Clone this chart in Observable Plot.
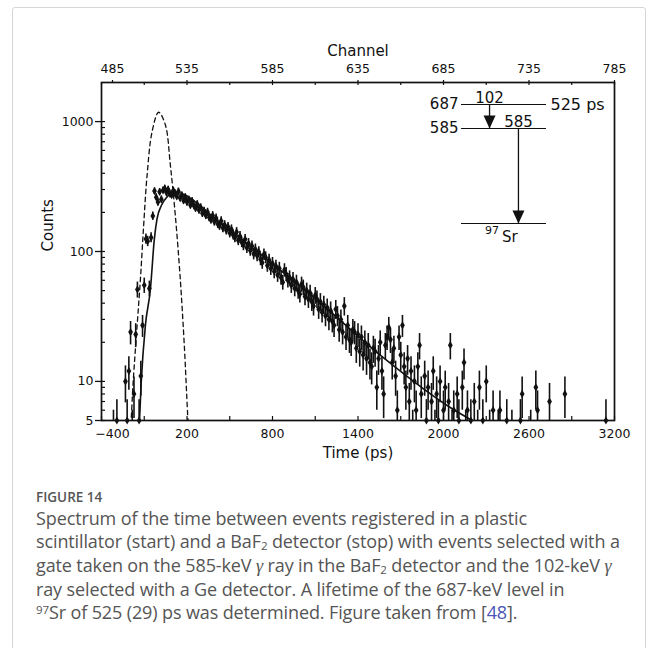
<!DOCTYPE html>
<html>
<head>
<meta charset="utf-8">
<script src="https://cdn.jsdelivr.net/npm/d3@7"></script>
<script src="https://cdn.jsdelivr.net/npm/@observablehq/plot@0.6"></script>
<style>
  html, body { margin: 0; padding: 0; background: #fff; }
  #card { position: absolute; left: 12px; top: 7px; width: 634px; height: 700px;
          border: 1px solid #d6d6d6; border-radius: 3px; box-sizing: border-box; }
  #chart { position: absolute; left: 0; top: 0; }
  #scheme { position: absolute; left: 400px; top: 85px; }
  #caption { position: absolute; left: 36px; top: 487px; width: 612px; color: #555;
             font-family: "Open Sans", Lato, sans-serif; }
  #caption .fig { font-size: 13.5px; font-weight: 600; line-height: 20px; }
  #caption .txt { font-size: 18px; line-height: 23.3px; white-space: nowrap; letter-spacing: -0.12px; }
  #caption .g { font-family: "Liberation Serif", serif; font-style: italic; }
  #caption sub, #caption sup { font-size: 64%; line-height: 0; vertical-align: baseline; position: relative; }
  #caption sub { top: 0.18em; }
  #caption sup { top: -0.45em; }
  #caption .ref { color: #4a55b5; }
</style>
</head>
<body>
<div id="card"></div>
<div id="chart"></div>
<div id="scheme"></div>
<div id="caption">
  <div class="fig">FIGURE 14</div>
  <div class="txt">Spectrum of the time between events registered in a plastic<br>scintillator (start) and a BaF<sub>2</sub> detector (stop) with events selected with a<br>gate taken on the 585-keV <span class="g">γ</span> ray in the BaF<sub>2</sub> detector and the 102-keV <span class="g">γ</span><br>ray selected with a Ge detector. A lifetime of the 687-keV level in<br><sup>97</sup>Sr of 525 (29) ps was determined. Figure taken from [<span class="ref">48</span>].</div>
</div>
<script>
// Time calibration of the TDC: channel 485 is −400 ps, 12 ps per channel.
const firstChannel = 485;
const startTime = -400;
const psPerChannel = 12;

// Counts per channel, channels 485 … 785 (−400 … 3200 ps)
const counts = [
  0, 1, 0, 0, 1, 0, 2, 4, 1, 5,
  0, 1, 2, 3, 10, 5, 12, 24, 4, 8,
  23, 51, 5, 11, 27, 55, 125, 120, 52, 128,
  188, 292, 262, 240, 288, 252, 296, 306, 284, 300,
  278, 272, 295, 281, 266, 290, 258, 271, 247, 262,
  240, 251, 228, 244, 226, 216, 231, 209, 218, 197,
  205, 190, 201, 183, 176, 189, 170, 181, 163, 158,
  172, 152, 160, 146, 155, 139, 148, 134, 128, 141,
  122, 131, 118, 112, 124, 107, 115, 102, 110, 96,
  104, 93, 99, 87, 82, 95, 90, 78, 86, 74,
  81, 70, 77, 66, 74, 63, 58, 72, 67, 60,
  63, 55, 61, 52, 58, 50, 47, 56, 53, 45,
  50, 43, 48, 41, 38, 46, 43, 36, 41, 34,
  39, 32, 37, 30, 35, 29, 27, 36, 32, 25,
  30, 24, 38, 22, 27, 21, 20, 25, 24, 18,
  23, 17, 22, 16, 20, 15, 19, 14, 13, 18,
  17, 9, 15, 20, 12, 8, 19, 22, 26, 21,
  14, 18, 11, 6, 22, 16, 27, 13, 9, 15,
  7, 12, 4, 10, 6, 13, 19, 8, 3, 11,
  5, 9, 2, 7, 12, 4, 8, 5, 10, 3,
  6, 9, 2, 7, 19, 4, 6, 3, 8, 5,
  2, 9, 14, 4, 6, 1, 5, 3, 7, 2,
  4, 9, 1, 5, 3, 10, 2, 4, 0, 6,
  3, 1, 4, 6, 2, 0, 3, 5, 1, 2,
  4, 0, 3, 1, 2, 5, 8, 3, 1, 0,
  2, 4, 1, 3, 9, 6, 0, 2, 1, 3,
  0, 2, 7, 1, 0, 2, 1, 0, 3, 1,
  0, 8, 2, 0, 1, 0, 2, 1, 0, 0,
  1, 0, 2, 0, 1, 0, 0, 1, 0, 2,
  0, 1, 0, 0, 1, 5, 0, 1, 0, 0,
  0
];

// Lifetime fit (solid) and prompt response (dashed): [time ps, counts]
const fitCurve = [
  [-140, 4.6], [-134, 5], [-122, 9.5], [-92, 27], [-57, 51], [-29, 125],
  [-10, 179], [20, 226], [60, 263], [100, 290], [457, 158], [854, 72],
  [1064, 47], [1554, 16], [2067, 6.1], [2230, 4.8]
];
const promptCurve = [
  [-195, 4.6], [-192, 5], [-178, 9.8], [-150, 27], [-127, 61], [-104, 160],
  [-80, 387], [-45, 836], [1, 1180], [48, 945], [83, 465], [118, 190],
  [153, 61], [181, 19], [207, 5], [210, 4.6]
];

// Axis ticks
const timeTicks = [-400, 200, 800, 1400, 2000, 2600, 3200];
const timeMinor = [-100, 500, 1100, 1700, 2300, 2900];
const channelTicks = [485, 535, 585, 635, 685, 735, 785];
const channelMinor = [510, 560, 610, 660, 710, 760];
const countTicks = [5, 10, 100, 1000];
const countMinor = [6, 7, 8, 9, 20, 30, 40, 50, 60, 70, 80, 90, 200, 300, 400, 500, 600, 700, 800, 900];

// Level scheme of 97Sr (keV) and the cascade used for the gate
const levels = [
  {energy: 687, label: "687", lifetime: "525 ps"},
  {energy: 585, label: "585", lifetime: ""},
  {energy: 0, label: "", lifetime: ""}
];
const gammas = [
  {label: "102", from: 687, to: 585, slot: 0.33},
  {label: "585", from: 585, to: 0, slot: 0.67}
];
const nucleus = {mass: "97", element: "Sr"};

const channelToTime = ch => startTime + (ch - firstChannel) * psPerChannel;
const timeToChannel = t => Math.round((t - startTime) / psPerChannel + firstChannel);

const rows = counts.map((c, i) => ({
  time: channelToTime(firstChannel + i),
  count: c,
  lo: Math.max(c - Math.sqrt(c), 0.5),
  hi: c + Math.sqrt(c)
}));

const W = 656, H = 475;
const mTop = 82, mLeft = 101, mRight = 42, mBottom = 55;
const frameW = W - mLeft - mRight, frameH = H - mTop - mBottom;
const ink = "#111";

const chart = Plot.plot({
  width: W, height: H,
  marginTop: mTop, marginLeft: mLeft, marginRight: mRight, marginBottom: mBottom,
  style: {fontFamily: "DejaVu Sans", fontSize: "12px", color: ink, background: "transparent"},
  x: {domain: [-400, 3200], axis: null},
  y: {type: "log", domain: [5, 2000], axis: null},
  marks: [
    // error bars and data points
    Plot.ruleX(rows.filter(d => d.hi > 5), {x: "time", y1: "lo", y2: "hi", stroke: ink, strokeWidth: 1.6, clip: true}),
    Plot.dot(rows.filter(d => d.count >= 5), {x: "time", y: "count", symbol: "diamond", r: 2.5, fill: ink, stroke: "none"}),
    // prompt response and fit
    Plot.line(promptCurve, {x: d => d[0], y: d => d[1], curve: "catmull-rom", stroke: ink, strokeWidth: 1.3, strokeDasharray: "4.5,3.5", clip: true}),
    Plot.line(fitCurve, {x: d => d[0], y: d => d[1], curve: "monotone-x", stroke: ink, strokeWidth: 1.6, clip: true}),
    Plot.frame({stroke: ink, strokeWidth: 1.7}),
    // left axis: labelled decades with outward ticks, minor ticks inside
    Plot.ruleY(countTicks, {y: d => d, insetLeft: -6, insetRight: frameW, stroke: ink, strokeWidth: 1.3}),
    Plot.text(countTicks, {y: d => d, frameAnchor: "left", text: d => String(d), textAnchor: "end", dx: -8, fontSize: 12.5, fill: ink}),
    Plot.ruleY(countTicks.concat(countMinor), {y: d => d, insetRight: frameW - 4, stroke: ink, strokeWidth: 1.2}),
    // bottom axis: time in ps, ticks pointing inwards
    Plot.axisX(timeTicks.slice(1), {anchor: "bottom", label: null, tickSize: 0, tickPadding: 9, fontSize: 12.5, tickFormat: d => String(d)}),
    Plot.axisX(timeTicks.slice(0, 1), {anchor: "bottom", label: null, tickSize: 0, tickPadding: 9, fontSize: 12.5, dx: 11, tickFormat: d => "−" + Math.abs(d)}),
    Plot.ruleX(timeTicks.concat(timeMinor), {x: d => d, insetTop: frameH - 4, stroke: ink, strokeWidth: 1.2}),
    // top axis: TDC channel
    Plot.axisX(channelTicks.slice(1).map(channelToTime), {anchor: "top", label: null, tickSize: 3, tickPadding: 7, strokeWidth: 1.2, fontSize: 12.5, tickFormat: timeToChannel}),
    Plot.axisX(channelTicks.slice(0, 1).map(channelToTime), {anchor: "top", label: null, tickSize: 3, tickPadding: 7, strokeWidth: 1.2, fontSize: 12.5, dx: 11, tickFormat: timeToChannel}),
    Plot.ruleX(channelTicks.concat(channelMinor).map(channelToTime), {x: d => d, insetBottom: frameH - 3, stroke: ink, strokeWidth: 1.2}),
    // axis titles
    Plot.text(["Channel"], {frameAnchor: "top", text: d => d, dy: -37, fontSize: 15, fill: ink}),
    Plot.text(["Time (ps)"], {frameAnchor: "bottom", text: d => d, dy: 37, fontSize: 15, fill: ink}),
    Plot.text(["Counts"], {frameAnchor: "left", text: d => d, dx: -53, rotate: -90, fontSize: 15, fill: ink})
  ]
});
document.getElementById("chart").append(chart);

// Filled arrow head with its tip on the anchor point
const arrowHead = {
  draw(context) {
    context.moveTo(0, 0);
    context.lineTo(-6, -13);
    context.lineTo(6, -13);
    context.closePath();
  }
};

const scheme = Plot.plot({
  width: 240, height: 175, margin: 0,
  style: {fontFamily: "DejaVu Sans", fontSize: "15px", color: ink, background: "transparent"},
  x: {type: "linear", domain: [0, 1], range: [61, 146], axis: null},
  y: {type: "linear", domain: [0, 585, 687], range: [138, 43, 19], axis: null},
  marks: [
    Plot.ruleY(levels, {y: "energy", x1: 0, x2: 1, stroke: ink, strokeWidth: 1.2}),
    Plot.link(gammas, {x1: "slot", x2: "slot", y1: "from", y2: "to", stroke: ink, strokeWidth: 1.3}),
    Plot.dot(gammas, {x: "slot", y: "to", symbol: arrowHead, fill: ink, stroke: "none"}),
    Plot.text(gammas, {x: "slot", y: "from", text: "label", lineAnchor: "bottom", dy: -2, fill: ink}),
    Plot.text(levels, {x: 0, y: "energy", text: "label", textAnchor: "end", dx: -3, fill: ink}),
    Plot.text(levels, {x: 1, y: "energy", text: "lifetime", textAnchor: "start", dx: 4, fontSize: 16, fill: ink}),
    Plot.text([nucleus], {x: 0.5, y: 0, text: "element", textAnchor: "start", lineAnchor: "top", dx: -2, dy: 8, fill: ink}),
    Plot.text([nucleus], {x: 0.5, y: 0, text: "mass", textAnchor: "end", lineAnchor: "top", dx: -5, dy: 3, fontSize: 11, fill: ink})
  ]
});
document.getElementById("scheme").append(scheme);
</script>
</body>
</html>
